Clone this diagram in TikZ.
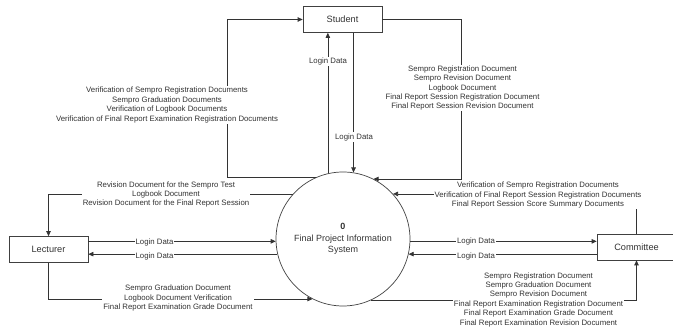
\documentclass[tikz,border=0pt]{standalone}
\usepackage{fontspec}
\setmainfont{Liberation Sans}
\usetikzlibrary{arrows.meta}
\begin{document}
\begin{tikzpicture}[x=1pt,y=-1pt,
 ent/.style={draw=black!75, line width=0.7pt, minimum width=79pt, minimum height=26pt, inner sep=0pt, font=\fontsize{9.2}{11}\selectfont, text=black!80},
 proc/.style={circle, draw=black!75, line width=0.7pt, minimum size=134pt, inner sep=0pt, align=center, font=\fontsize{9}{11.5}\selectfont, text=black!80},
 flow/.style={draw=black!80, line width=0.7pt, -{Triangle[length=5pt,width=4.5pt]}},
 lbl/.style={fill=white, inner sep=1pt, align=center, font=\fontsize{7.8}{9.4}\selectfont, text=black!80}]
\useasboundingbox (0,0) rectangle (673,331);
\node[ent] (student) at (342.5,19.5) {Student};
\node[ent] (lect) at (48.5,249.5) {Lecturer};
\node[ent] (comm) at (636.5,247) {Committee};
\node[proc] (sys) at (343,239) {\textbf{0}\\Final Project Information\\System};
\coordinate (lx) at (227,0);
\coordinate (rx) at (461,0);
% student connectors
\draw[flow] (sys.114.4) -- (sys.114.4 -| lx) |- (student.west);
\draw[flow] (sys.103.8) -- (sys.103.8 |- student.south);
\draw[flow] (student.south -| sys.81.4) -- (sys.81.4);
\draw[flow] (student.east) -| (rx |- sys.63.6) -- (sys.63.6);
% lecturer connectors
\draw[flow] (sys.138.95) -| (lect.north);
\draw[flow] (sys.182.6 -| lect.east) -- (sys.182.6);
\draw[flow] (sys.193.8) -- (sys.193.8 -| lect.east);
\draw[flow] (lect.south) |- (sys.243.6);
% committee connectors
\draw[flow] (comm.north) |- (sys.42.2);
\draw[flow] (sys.-2.6) -- (sys.-2.6 -| comm.west);
\draw[flow] (sys.-13.8 -| comm.west) -- (sys.-13.8);
\draw[flow] (sys.-65.6) -| (comm.south);
% labels
\node[lbl] (l1) at (167,105) {Verification of Sempro Registration Documents\\Sempro Graduation Documents\\Verification of Logbook Documents\\Verification of Final Report Examination Registration Documents};
\node[lbl] (l2) at (462.5,88) {Sempro Registration Document\\Sempro Revision Document\\Logbook Document\\Final Report Session Registration Document\\Final Report Session Revision Document};
\node[lbl] (l3) at (328,61.5) {Login Data};
\node[lbl] (l4) at (354,137) {Login Data};
\node[lbl] (l5) at (166,194.5) {Revision Document for the Sempro Test\\Logbook Document\\Revision Document for the Final Report Session};
\node[lbl] (l6) at (154.5,242) {Login Data};
\node[lbl] (l7) at (154.5,256) {Login Data};
\node[lbl] (l8) at (178,298) {Sempro Graduation Document\\Logbook Document Verification\\Final Report Examination Grade Document};
\node[lbl] (l9) at (538,195) {Verification of Sempro Registration Documents\\Verification of Final Report Session Registration Documents\\Final Report Session Score Summary Documents};
\node[lbl] (l10) at (476,241) {Login Data};
\node[lbl] (l11) at (476,256) {Login Data};
\node[lbl] (l12) at (538.5,299.5) {Sempro Registration Document\\Sempro Graduation Document\\Sempro Revision Document\\Final Report Examination Registration Document\\Final Report Examination Grade Document\\Final Report Examination Revision Document};
\end{tikzpicture}
\end{document}
